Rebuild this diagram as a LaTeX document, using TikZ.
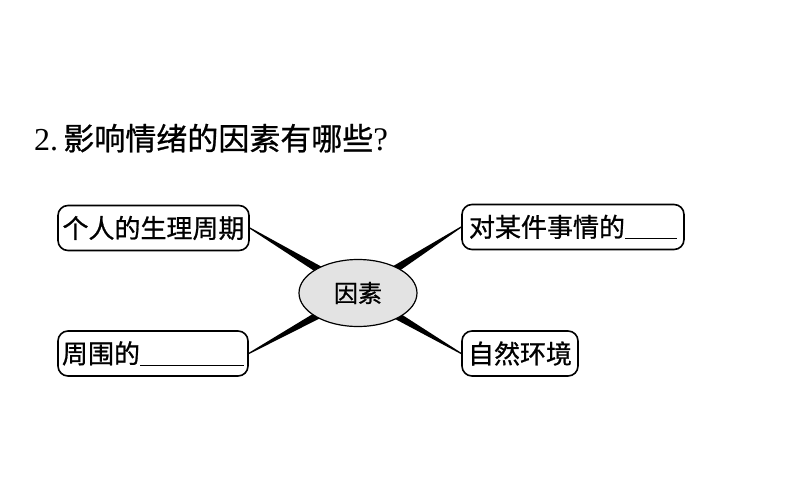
\documentclass[tikz,border=0pt]{standalone}
\usepackage{fontspec}
\setmainfont{Noto Sans CJK SC}[FakeBold=0.8]
\newfontfamily\latinserif{Liberation Serif}
\usetikzlibrary{calc,shapes.geometric}
\tikzset{
  itembox/.style={draw=black, line width=1.6pt, rounded corners=10pt, minimum height=45pt, inner sep=0pt, font=\fontsize{26}{30}\selectfont, fill=white},
  hub/.style={ellipse, draw=black, line width=1.2pt, fill=gray!22, minimum width=118pt, minimum height=67pt, inner sep=0pt, font=\fontsize{24}{28}\selectfont},
  wedge/.style={fill=black}
}
\newcommand{\blankline}[1]{\rule[-2.5pt]{#1}{1.2pt}}
\begin{document}
\begin{tikzpicture}[x=1pt,y=-1pt]
\path[use as bounding box, fill=white] (0,0) rectangle (794,495);
% title
\node[anchor=base west, inner sep=0pt, font=\fontsize{31}{36}\selectfont] (title) at (34,150)
  {{\latinserif\fontsize{32}{36}\selectfont 2.}\,影响情绪的因素有哪些{\latinserif\fontsize{33}{36}\selectfont ?}};
% boxes
\node[itembox, minimum width=191pt] (b1) at (153.5,228) {个人的生理周期};
\node[itembox, minimum width=190pt] (b2) at (153,353.5) {周围的\blankline{104pt}};
\node[itembox, minimum width=222pt] (b3) at (573,227) {对某件事情的\blankline{52pt}};
\node[itembox, minimum width=116pt] (b4) at (520,353.5) {自然环境};
% hub position
\coordinate (hc) at (358,293);
% wedges
\foreach \b/\a in {b1/east, b2/east, b3/west, b4/west}{
  \fill[wedge] ($(\b.\a)!0.6pt!90:(hc)$) -- ($(hc)!5.5pt!-90:(\b.\a)$) -- ($(hc)!5.5pt!90:(\b.\a)$) -- ($(\b.\a)!0.6pt!-90:(hc)$) -- cycle;
}
\node[hub] (e) at (hc) {因素};
\end{tikzpicture}
\end{document}
